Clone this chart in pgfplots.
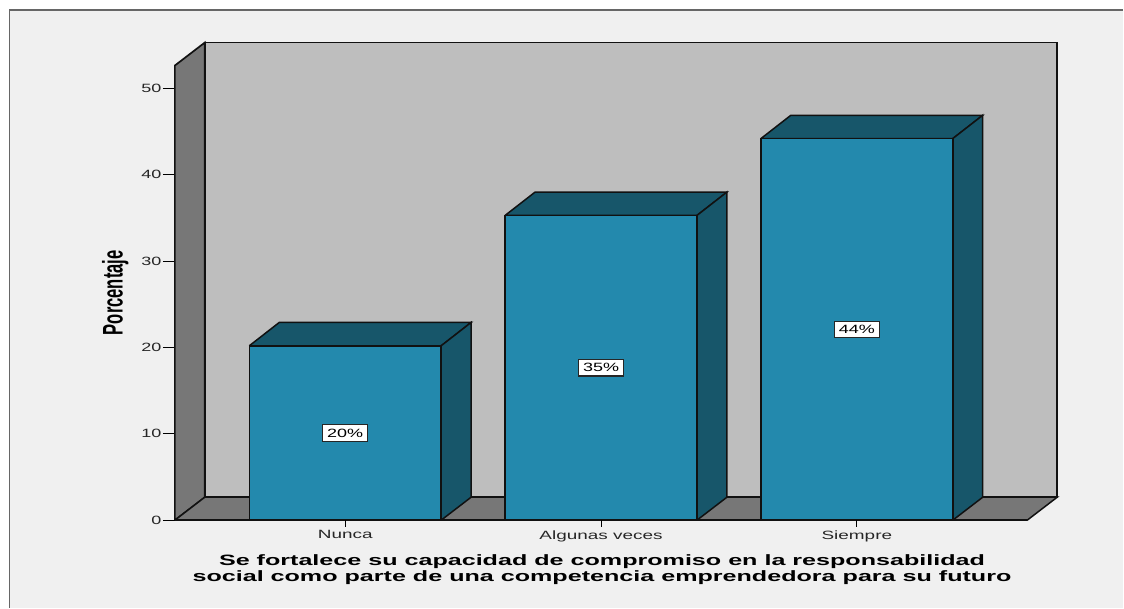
\documentclass[border=0pt]{standalone}
\usepackage{pgfplots}
\usepackage{graphicx}
\usepackage{fontspec}
\setmainfont{Liberation Sans}
\pgfplotsset{compat=1.18}
\definecolor{barfront}{HTML}{2389AD}
\definecolor{bardark}{HTML}{17566A}
\definecolor{wallgray}{HTML}{BEBEBE}
\definecolor{sidegray}{HTML}{777777}
\definecolor{panel}{HTML}{F0F0F0}
\definecolor{edge}{HTML}{111111}
\begin{document}
\begin{tikzpicture}[x=1pt,y=1pt]
\fill[white] (0,0) rectangle (1124,608);
\fill[panel] (9,0) rectangle (1124,598);
\draw[gray!80!black,line width=1.8pt] (9.5,0) -- (9.5,598) -- (1124,598);
\begin{axis}[
  at={(175pt,87.4pt)}, anchor=south west,
  scale only axis, width=883pt, height=478pt,
  xmin=-0.666, xmax=2.783, ymin=0, ymax=55.32,
  clip=false, axis line style={draw=none},
  ytick={0,10,20,30,40,50}, ytick pos=left,
  xtick={0,1,2}, xticklabels={Nunca,Algunas veces,Siempre}, xtick pos=bottom,
  ytick style={black,line width=0.9pt},
  xtick style={draw=none},
  tick align=outside,
  major tick length=12pt,
  yticklabel style={font=\fontsize{12}{12}\selectfont,xscale=1.5,xshift=2.5pt,text=black!85},
  xticklabel style={font=\fontsize{12}{12}\selectfont,yshift=5pt,xscale=1.58,text=black!85},
  /pgf/number format/assume math mode=true,
]
% side wall, floor, back wall
\addplot[fill=wallgray,draw=edge,line width=1.7pt] coordinates {(-0.549,2.66) (-0.549,55.32) (2.783,55.32) (2.783,2.66) (-0.549,2.66)};
\addplot[fill=sidegray,draw=edge,line width=1.7pt] coordinates {(-0.666,0) (-0.666,52.66) (-0.549,55.32) (-0.549,2.66) (-0.666,0)};
\addplot[fill=sidegray,draw=edge,line width=1.5pt] coordinates {(-0.666,0) (-0.549,2.66) (2.783,2.66) (2.666,0) (-0.666,0)};
% bars
\addplot[fill=bardark,draw=edge,line width=1.5pt] coordinates {(-0.375,20.2) (-0.258,22.9) (0.492,22.9) (0.375,20.2) (-0.375,20.2)};
\addplot[fill=bardark,draw=edge,line width=1.5pt] coordinates {(0.375,0) (0.492,2.66) (0.492,22.9) (0.375,20.2) (0.375,0)};
\addplot[fill=barfront,draw=edge,line width=1.5pt] coordinates {(-0.375,0) (-0.375,20.2) (0.375,20.2) (0.375,0) (-0.375,0)};
\addplot[fill=bardark,draw=edge,line width=1.5pt] coordinates {(0.625,35.3) (0.742,38) (1.492,38) (1.375,35.3) (0.625,35.3)};
\addplot[fill=bardark,draw=edge,line width=1.5pt] coordinates {(1.375,0) (1.492,2.66) (1.492,38) (1.375,35.3) (1.375,0)};
\addplot[fill=barfront,draw=edge,line width=1.5pt] coordinates {(0.625,0) (0.625,35.3) (1.375,35.3) (1.375,0) (0.625,0)};
\addplot[fill=bardark,draw=edge,line width=1.5pt] coordinates {(1.625,44.2) (1.742,46.9) (2.492,46.9) (2.375,44.2) (1.625,44.2)};
\addplot[fill=bardark,draw=edge,line width=1.5pt] coordinates {(2.375,0) (2.492,2.66) (2.492,46.9) (2.375,44.2) (2.375,0)};
\addplot[fill=barfront,draw=edge,line width=1.5pt] coordinates {(1.625,0) (1.625,44.2) (2.375,44.2) (2.375,0) (1.625,0)};
\addplot[draw=edge,line width=1.5pt] coordinates {(-0.666,0) (2.666,0)};
% x ticks
\addplot[black,line width=0.9pt] coordinates {(0,0) (0,-0.75)};
\addplot[black,line width=0.9pt] coordinates {(1,0) (1,-0.75)};
\addplot[black,line width=0.9pt] coordinates {(2,0) (2,-0.75)};
% value labels
\addplot[only marks,mark=none,
  nodes near coords=\pgfplotspointmeta\%,
  point meta=explicit symbolic,
  nodes near coords style={anchor=center,fill=white,draw=black!85,line width=1.1pt,inner xsep=3pt,inner ysep=4pt,rectangle,font=\fontsize{12}{12}\selectfont,xscale=1.5,text=black}]
  coordinates {(0,10.1)[20] (1,17.65)[35] (2,22.1)[44]};
\end{axis}
\node[rotate=90,font=\bfseries] at (115.5,315) {\scalebox{0.975}[1.67]{\fontsize{17}{17}\selectfont Porcentaje}};
\node[align=center,font=\bfseries\fontsize{15}{16}\selectfont,xscale=1.675] at (602.5,37.5) {Se fortalece su capacidad de compromiso en la responsabilidad\\social como parte de una competencia emprendedora para su futuro};
\end{tikzpicture}
\end{document}
